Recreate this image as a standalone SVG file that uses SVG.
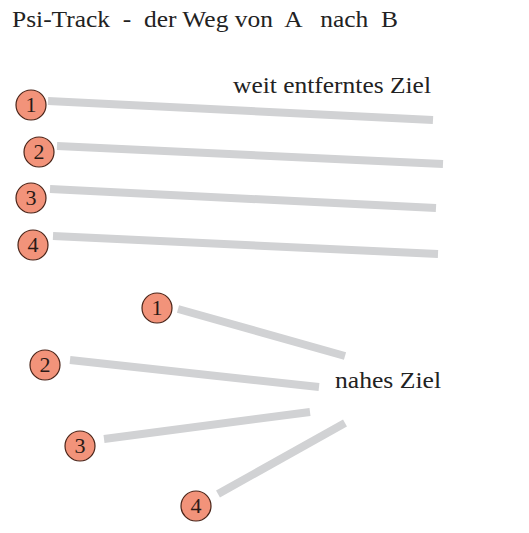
<svg xmlns="http://www.w3.org/2000/svg" width="529" height="533" viewBox="0 0 529 533">
<style>
.bg{fill:#ffffff}
.txt{font-family:"Liberation Serif","Times New Roman",serif;fill:#222222;white-space:pre}
.track{stroke:#d1d2d4;stroke-width:8;stroke-linecap:butt;fill:none}
.node circle{fill:#f2937a;stroke:#4a2418;stroke-width:1.2}
.node text{font-family:"Liberation Serif","Times New Roman",serif;font-size:22px;fill:#2a1a16;text-anchor:middle}
</style>
<rect class="bg" x="0" y="0" width="529" height="533"/>
<text class="txt" x="12" y="27" font-size="23" textLength="386" lengthAdjust="spacingAndGlyphs" xml:space="preserve">Psi-Track  -  der Weg von  A   nach  B</text>
<text class="txt" x="233" y="93" font-size="23" textLength="198" lengthAdjust="spacingAndGlyphs">weit entferntes Ziel</text>
<text class="txt" x="335" y="388" font-size="23" textLength="106" lengthAdjust="spacingAndGlyphs">nahes Ziel</text>
<g id="connectors">
<line class="track" x1="48" y1="101" x2="433" y2="120"/>
<line class="track" x1="57" y1="146" x2="443" y2="164"/>
<line class="track" x1="50" y1="189" x2="436" y2="208"/>
<line class="track" x1="53" y1="236" x2="438" y2="254"/>
<line class="track" x1="178" y1="309" x2="345" y2="356"/>
<line class="track" x1="70" y1="360" x2="319" y2="387"/>
<line class="track" x1="104" y1="439" x2="310" y2="412"/>
<line class="track" x1="218" y1="494" x2="345" y2="423"/>
</g>
<g id="far-1" class="node"><circle cx="31" cy="105" r="15"/><text x="31" y="112">1</text></g>
<g id="far-2" class="node"><circle cx="39" cy="152" r="15"/><text x="39" y="159">2</text></g>
<g id="far-3" class="node"><circle cx="31" cy="198" r="15"/><text x="31" y="205">3</text></g>
<g id="far-4" class="node"><circle cx="33" cy="245" r="15"/><text x="33" y="252">4</text></g>
<g id="near-1" class="node"><circle cx="157" cy="308" r="15"/><text x="157" y="315">1</text></g>
<g id="near-2" class="node"><circle cx="45" cy="365" r="15"/><text x="45" y="372">2</text></g>
<g id="near-3" class="node"><circle cx="80" cy="446" r="15"/><text x="80" y="453">3</text></g>
<g id="near-4" class="node"><circle cx="196" cy="506" r="15"/><text x="196" y="513">4</text></g>
</svg>
